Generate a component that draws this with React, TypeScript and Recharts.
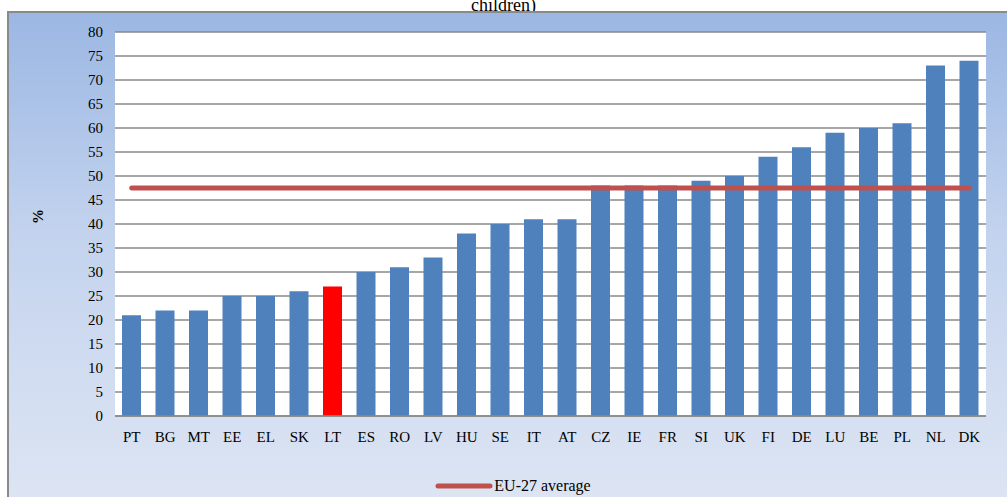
import { Bar, Cell, CartesianGrid, ComposedChart, Legend, Line, XAxis, YAxis } from "recharts"

const countries = ["PT", "BG", "MT", "EE", "EL", "SK", "LT", "ES", "RO", "LV", "HU", "SE", "IT", "AT", "CZ", "IE", "FR", "SI", "UK", "FI", "DE", "LU", "BE", "PL", "NL", "DK"]
const shares = [21, 22, 22, 25, 25, 26, 27, 30, 31, 33, 38, 40, 41, 41, 48, 48, 48, 49, 50, 54, 56, 59, 60, 61, 73, 74]
const euAverage = 47.5
const highlighted = "LT"
const yTicks = [0, 5, 10, 15, 20, 25, 30, 35, 40, 45, 50, 55, 60, 65, 70, 75, 80]

const data = countries.map((name, i) => ({ name, value: shares[i], avg: euAverage }))

const serif = "'Liberation Serif', 'Times New Roman', serif"

function LegendLine() {
  return (
    <div style={{ display: "flex", justifyContent: "center", alignItems: "center", paddingLeft: 30, fontFamily: serif, fontSize: 16, color: "#000" }}>
      <svg width={60} height={10}>
        <line x1={4} y1={5} x2={56} y2={5} stroke="#C0504D" strokeWidth={5} strokeLinecap="round" />
      </svg>
      <span>EU-27 average</span>
    </div>
  )
}

export default function App() {
  return (
    <div style={{ position: "absolute", left: 0, top: 0, width: 1007, height: 497, overflow: "hidden", background: "#fff" }}>
      <div style={{ position: "absolute", top: -5, left: 0, width: 1007, textAlign: "center", fontFamily: serif, fontSize: 18, lineHeight: "20px" }}>
        children)
      </div>
      <div
        style={{
          position: "absolute",
          left: 7,
          top: 11,
          width: 1005,
          height: 490,
          borderLeft: "2px solid #8a8a8a",
          borderTop: "2px solid #8a8a8a",
          background: "linear-gradient(to bottom, #9bb7e3 0%, #c3d3ee 45%, #dde5f3 100%)",
        }}
      >
        <ComposedChart
          width={1000}
          height={485}
          data={data}
          margin={{ top: 19, right: 23, bottom: 32, left: 0 }}
        >
          <CartesianGrid vertical={false} stroke="#8a8a8a" strokeWidth={1.6} fill="#ffffff" fillOpacity={1} />
          <XAxis
            dataKey="name"
            height={32}
            tickLine={false}
            axisLine={{ stroke: "#8a8a8a", strokeWidth: 1.6 }}
            tickMargin={9}
            interval={0}
            tick={{ fill: "#000", fontSize: 15, fontFamily: serif }}
          />
          <YAxis
            width={106}
            domain={[0, 80]}
            ticks={yTicks}
            interval={0}
            tickLine={false}
            axisLine={false}
            tickMargin={6}
            tick={{ fill: "#000", fontSize: 15, fontFamily: serif }}
            label={{ value: "%", angle: -90, position: "insideLeft", offset: 29, style: { fontFamily: serif, fontSize: 15, fontWeight: "bold", fill: "#000" } }}
          />
          <Bar dataKey="value" fill="#4F81BD" barSize={19} isAnimationActive={false} legendType="none">
            {data.map((d) => (
              <Cell key={d.name} fill={d.name === highlighted ? "#FF0000" : "#4F81BD"} />
            ))}
          </Bar>
          <Line
            dataKey="avg"
            name="EU-27 average"
            type="linear"
            stroke="#C0504D"
            strokeWidth={5}
            strokeLinecap="round"
            dot={false}
            activeDot={false}
            isAnimationActive={false}
          />
          <Legend verticalAlign="bottom" wrapperStyle={{ bottom: 3 }} content={() => <LegendLine />} />
        </ComposedChart>
      </div>
    </div>
  )
}
